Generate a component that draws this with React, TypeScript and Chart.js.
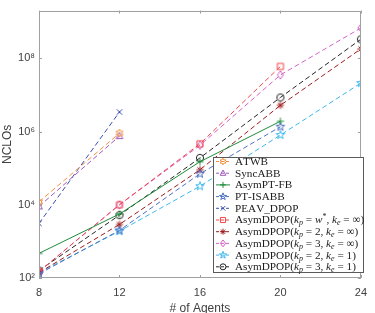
import React, { useEffect, useRef } from 'react';
import { Chart, registerables } from 'chart.js';
Chart.register(...registerables);

// ---- data ----
const agents = [8, 12, 16, 20, 24];
const yTickValues = [1e2, 1e4, 1e6, 1e8];
const yTickLabels = ['10²', '10⁴', '10⁶', '10⁸'];
const xTickValues = [8, 12, 16, 20, 24];

const atwb = [1.2e4, 9e5];
const syncAbb = [9e3, 7.5e5];
const asymPtFb = [470, 5.6e3, 1.5e5, 1.9e6];
const ptIsabb = [130, 2.0e3, 7.0e4, 1.35e6];
const peavDpop = [3.1e3, 3.4e6];
const asymWInf = [150, 1.0e4, 4.6e5, 6.0e7];
const asym2Inf = [140, 2.9e3, 9.0e4, 5.2e6, 1.8e8];
const asym3Inf = [150, 1.0e4, 4.2e5, 3.5e7, 6.7e8];
const asym21 = [140, 1.9e3, 3.2e4, 8.0e5, 2.1e7];
const asym31 = [160, 5.2e3, 1.9e5, 8.5e6, 3.3e8];

const seriesLabels = [
  'ATWB',
  'SyncABB',
  'AsymPT-FB',
  'PT-ISABB',
  'PEAV_DPOP',
  'AsymDPOP(kₚ = w*, kₑ = ∞)',
  'AsymDPOP(kₚ = 2, kₑ = ∞)',
  'AsymDPOP(kₚ = 3, kₑ = ∞)',
  'AsymDPOP(kₚ = 2, kₑ = 1)',
  'AsymDPOP(kₚ = 3, kₑ = 1)',
];
const seriesValues = [atwb, syncAbb, asymPtFb, ptIsabb, peavDpop, asymWInf, asym2Inf, asym3Inf, asym21, asym31];

// ---- styles ----
const styles = [
  { color: '#f5913e', marker: 'hexagram', dashed: true },
  { color: '#a259bd', marker: 'triangle', dashed: true },
  { color: '#1e8c3a', marker: 'plus', dashed: false },
  { color: '#4d6fc4', marker: 'pentagram', dashed: true },
  { color: '#3a4fb3', marker: 'x', dashed: true },
  { color: '#f0484c', marker: 'square', dashed: true },
  { color: '#a11a1a', marker: 'asterisk', dashed: true },
  { color: '#d462c8', marker: 'diamond', dashed: true },
  { color: '#3bb8ee', marker: 'pentagram', dashed: true },
  { color: '#262626', marker: 'circle', dashed: true },
];

const MR = 3.6;
const DASH = [5, 3];
const AXIS_COLOR = '#a0a0a0';
const TEXT_COLOR = '#404040';

function drawMarker(ctx: CanvasRenderingContext2D, type: string, cx: number, cy: number, r: number, color: string) {
  ctx.save();
  ctx.strokeStyle = color;
  ctx.lineWidth = 1;
  ctx.setLineDash([]);
  ctx.beginPath();
  const star = (n: number, ro: number, ri: number) => {
    for (let i = 0; i < 2 * n; i++) {
      const a = -Math.PI / 2 + (i * Math.PI) / n;
      const rr = i % 2 === 0 ? ro : ri;
      const px = cx + rr * Math.cos(a);
      const py = cy + rr * Math.sin(a);
      if (i === 0) ctx.moveTo(px, py);
      else ctx.lineTo(px, py);
    }
    ctx.closePath();
  };
  switch (type) {
    case 'circle':
      ctx.arc(cx, cy, r, 0, Math.PI * 2);
      break;
    case 'square':
      ctx.rect(cx - r * 0.85, cy - r * 0.85, r * 1.7, r * 1.7);
      break;
    case 'diamond':
      ctx.moveTo(cx, cy - r * 1.15);
      ctx.lineTo(cx + r * 0.85, cy);
      ctx.lineTo(cx, cy + r * 1.15);
      ctx.lineTo(cx - r * 0.85, cy);
      ctx.closePath();
      break;
    case 'triangle':
      ctx.moveTo(cx, cy - r * 1.05);
      ctx.lineTo(cx + r * 0.95, cy + r * 0.7);
      ctx.lineTo(cx - r * 0.95, cy + r * 0.7);
      ctx.closePath();
      break;
    case 'plus':
      ctx.moveTo(cx - r, cy);
      ctx.lineTo(cx + r, cy);
      ctx.moveTo(cx, cy - r);
      ctx.lineTo(cx, cy + r);
      break;
    case 'x': {
      const d = r * 0.75;
      ctx.moveTo(cx - d, cy - d);
      ctx.lineTo(cx + d, cy + d);
      ctx.moveTo(cx - d, cy + d);
      ctx.lineTo(cx + d, cy - d);
      break;
    }
    case 'asterisk': {
      const d = r * 0.7;
      ctx.moveTo(cx - r, cy);
      ctx.lineTo(cx + r, cy);
      ctx.moveTo(cx, cy - r);
      ctx.lineTo(cx, cy + r);
      ctx.moveTo(cx - d, cy - d);
      ctx.lineTo(cx + d, cy + d);
      ctx.moveTo(cx - d, cy + d);
      ctx.lineTo(cx + d, cy - d);
      break;
    }
    case 'pentagram':
      star(5, r * 1.25, r * 0.5);
      break;
    case 'hexagram':
      star(6, r * 1.1, r * 0.62);
      break;
  }
  ctx.stroke();
  ctx.restore();
}

function makeMarkerImage(type: string, color: string, r: number): HTMLCanvasElement {
  const s = Math.ceil(r * 2.6 + 4);
  const c = document.createElement('canvas');
  c.width = s;
  c.height = s;
  const ctx = c.getContext('2d')!;
  drawMarker(ctx, type, s / 2, s / 2, r, color);
  return c;
}

// draws legend label with italic / sub / superscript parts for the math
function drawRichLabel(ctx: CanvasRenderingContext2D, text: string, x: number, y: number, size: number) {
  const fam = '"Liberation Serif", "DejaVu Serif", serif';
  let inMath = false;
  let cx = x;
  for (let i = 0; i < text.length; i++) {
    const ch = text[i];
    let font = `${size}px ${fam}`;
    let dy = 0;
    let out = ch;
    if (ch === '(' && text.startsWith('AsymDPOP')) {
      inMath = true;
    } else if (inMath && (ch === 'ₚ' || ch === 'ₑ')) {
      out = ch === 'ₚ' ? 'p' : 'e';
      font = `italic ${Math.round(size * 0.7)}px ${fam}`;
      dy = size * 0.25;
    } else if (inMath && ch === '*') {
      font = `${Math.round(size * 0.7)}px ${fam}`;
      dy = -size * 0.3;
    } else if (inMath && /[a-z]/.test(ch)) {
      font = `italic ${size}px ${fam}`;
    } else if (ch === ')') {
      inMath = false;
    }
    ctx.font = font;
    ctx.fillText(out, cx, y + dy);
    cx += ctx.measureText(out).width;
  }
}

const framePlugin = {
  id: 'frameAndLegend',
  afterDraw(chart: any) {
    const ctx: CanvasRenderingContext2D = chart.ctx;
    const a = chart.chartArea;
    const xs = chart.scales.x;
    const ys = chart.scales.y;
    ctx.save();
    ctx.strokeStyle = AXIS_COLOR;
    ctx.lineWidth = 1;
    ctx.setLineDash([]);
    ctx.strokeRect(Math.round(a.left) + 0.5, Math.round(a.top) + 0.5, Math.round(a.right - a.left) - 1, Math.round(a.bottom - a.top) - 1);
    const tl = 3;
    ctx.beginPath();
    xTickValues.forEach((v) => {
      const px = Math.round(xs.getPixelForValue(v)) + 0.5;
      ctx.moveTo(px, a.bottom);
      ctx.lineTo(px, a.bottom - tl);
      ctx.moveTo(px, a.top);
      ctx.lineTo(px, a.top + tl);
    });
    yTickValues.forEach((v) => {
      const py = Math.round(ys.getPixelForValue(v)) + 0.5;
      ctx.moveTo(a.left, py);
      ctx.lineTo(a.left + tl, py);
      ctx.moveTo(a.right, py);
      ctx.lineTo(a.right - tl, py);
    });
    ctx.stroke();

    // legend
    const bx = 213, by = 157, bw = 150, bh = 115;
    ctx.fillStyle = '#ffffff';
    ctx.fillRect(bx, by, bw, bh);
    ctx.strokeStyle = '#5a5a5a';
    ctx.strokeRect(bx + 0.5, by + 0.5, bw, bh);
    const rowH = 11.7;
    seriesLabels.forEach((lab, i) => {
      const st = styles[i];
      const yy = by + 4.5 + i * rowH;
      ctx.save();
      ctx.strokeStyle = st.color;
      ctx.lineWidth = 1;
      ctx.setLineDash(st.dashed ? [3, 2] : []);
      ctx.beginPath();
      ctx.moveTo(bx + 3, yy);
      ctx.lineTo(bx + 17, yy);
      ctx.stroke();
      ctx.restore();
      drawMarker(ctx, st.marker, bx + 10, yy, 3, st.color);
      ctx.fillStyle = '#1a1a1a';
      ctx.textBaseline = 'middle';
      ctx.textAlign = 'left';
      drawRichLabel(ctx, lab, bx + 22, yy + 0.5, 11.2);
    });
    ctx.restore();
  },
};

export default function App() {
  const ref = useRef<HTMLCanvasElement>(null);
  useEffect(() => {
    if (!ref.current) return;
    const datasets = seriesLabels.map((label, i) => {
      const st = styles[i];
      const img = makeMarkerImage(st.marker, st.color, MR);
      return {
        label,
        data: seriesValues[i].map((v, j) => ({ x: agents[j], y: v })),
        borderColor: st.color,
        backgroundColor: st.color,
        borderWidth: 1,
        borderDash: st.dashed ? DASH : [],
        pointStyle: img as any,
        pointRadius: MR,
        pointHoverRadius: MR,
        fill: false,
        tension: 0,
      };
    });
    const chart = new Chart(ref.current, {
      type: 'line',
      data: { datasets },
      options: {
        animation: false,
        responsive: false,
        events: [],
        layout: { padding: { top: 4, right: 7, left: 0, bottom: 0 } },
        plugins: { legend: { display: false }, tooltip: { enabled: false } },
        scales: {
          x: {
            type: 'linear',
            min: 8,
            max: 24,
            grid: { display: false, drawTicks: false },
            border: { display: false },
            afterBuildTicks: (s: any) => {
              s.ticks = xTickValues.map((v) => ({ value: v }));
            },
            afterFit: (s: any) => {
              s.height = 35;
            },
            ticks: {
              padding: 8,
              color: TEXT_COLOR,
              font: { family: '"Liberation Sans", Arial, sans-serif', size: 11 },
              callback: (v: any) => String(v),
            },
            title: {
              display: true,
              text: '# of Agents',
              color: TEXT_COLOR,
              font: { family: '"Liberation Sans", Arial, sans-serif', size: 12 },
              padding: { top: 0, bottom: -3 },
            },
          },
          y: {
            type: 'logarithmic',
            min: 100,
            max: 2e9,
            grid: { display: false, drawTicks: false },
            border: { display: false },
            afterBuildTicks: (s: any) => {
              s.ticks = yTickValues.map((v) => ({ value: v }));
            },
            afterFit: (s: any) => {
              s.width = 39;
            },
            ticks: {
              padding: 4,
              color: TEXT_COLOR,
              font: { family: '"Liberation Sans", Arial, sans-serif', size: 11 },
              callback: (v: any) => {
                const idx = yTickValues.indexOf(Number(v));
                return idx >= 0 ? yTickLabels[idx] : '';
              },
            },
            title: {
              display: true,
              text: 'NCLOs',
              color: TEXT_COLOR,
              font: { family: '"Liberation Sans", Arial, sans-serif', size: 12 },
              padding: { top: 0, bottom: 0 },
            },
          },
        },
      },
      plugins: [framePlugin],
    });
    return () => chart.destroy();
  }, []);
  return (
    <div style={{ position: 'absolute', left: 0, top: 0, width: 375, height: 313, background: '#fff' }}>
      <canvas ref={ref} width={375} height={313} style={{ display: 'block' }} />
    </div>
  );
}
